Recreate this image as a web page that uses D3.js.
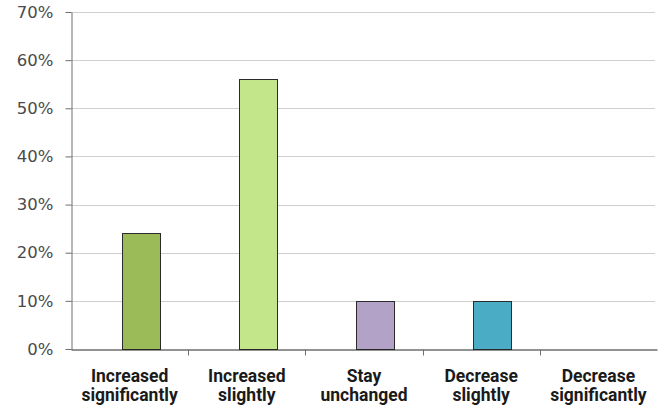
<!DOCTYPE html>
<html><head><meta charset="utf-8">
<script src="https://cdn.jsdelivr.net/npm/d3@7"></script>
<style>body{margin:0;background:#fff}svg{display:block}</style>
</head><body><svg id="c" width="664" height="412"></svg>
<script>
const categories = [["Increased","significantly"],["Increased","slightly"],["Stay","unchanged"],["Decrease","slightly"],["Decrease","significantly"]];
const values = [0.24, 0.56, 0.10, 0.10, 0];
const colors = ["#9BBB59","#C3E68A","#B3A2C7","#4BACC6","#F79646"];
const yTicks = [0,0.1,0.2,0.3,0.4,0.5,0.6,0.7];

const svg = d3.select("#c");
const m = {l:71, r:7, t:12, b:63};
const W = 664, H = 412;
const x = d3.scaleBand().domain(d3.range(categories.length)).range([m.l, W-m.r]).paddingInner(0).paddingOuter(0);
const y = d3.scaleLinear().domain([0,0.7]).range([H-m.b, m.t]);

// gridlines
svg.append("g").selectAll("line").data(yTicks.slice(1)).join("line")
  .attr("x1", m.l).attr("x2", W-m.r-2)
  .attr("y1", d=>Math.round(y(d))+0.5).attr("y2", d=>Math.round(y(d))+0.5)
  .attr("stroke","#cfcfcf").attr("stroke-width",1);

// bars
const bw = 38, off = 11;
svg.append("g").selectAll("rect").data(values).join("rect")
  .attr("x",(d,i)=>Math.round(x(i)+x.bandwidth()/2+off-bw/2)+0.5)
  .attr("width",bw)
  .attr("y",d=>Math.round(y(d))+0.5)
  .attr("height",d=>Math.max(0,Math.round(y(0))-Math.round(y(d))))
  .attr("fill",(d,i)=>colors[i])
  .attr("stroke",(d)=>d>0?"#2b2b2b":"none").attr("stroke-width",1);

// y axis
const ya = svg.append("g").attr("transform",`translate(${m.l+0.5},0)`)
  .call(d3.axisLeft(y).tickValues(yTicks).tickFormat(d3.format(".0%")).tickSize(6).tickSizeOuter(0));
ya.select(".domain").attr("stroke","#6e6e6e");
ya.selectAll(".tick line").attr("stroke","#6e6e6e");
ya.selectAll(".tick text").attr("font-family","DejaVu Sans").attr("font-size",16.5).attr("fill","#4a4a4a").attr("x",-18);

// x axis
const xa = svg.append("g").attr("transform",`translate(0,${Math.round(y(0))+0.5})`)
  .call(d3.axisBottom(x).tickSize(0).tickFormat(""));
xa.select(".domain").attr("stroke","#262626");
const edges = d3.range(categories.length+1).map(i=>m.l + i*x.bandwidth());
xa.selectAll("line.sep").data(edges.slice(1,-1)).join("line").attr("class","sep")
  .attr("x1",d=>Math.round(d)+0.5).attr("x2",d=>Math.round(d)+0.5).attr("y1",0).attr("y2",6)
  .attr("stroke","#6e6e6e");

// category labels
const lab = svg.append("g").selectAll("text").data(categories).join("text")
  .attr("text-anchor","middle")
  .attr("font-family","Roboto").attr("font-weight","bold").attr("font-size",17.5).attr("fill","#1a1a1a");
lab.each(function(d,i){
  const t = d3.select(this);
  d.forEach((s,j)=>t.append("tspan").attr("x",x(i)+x.bandwidth()/2).attr("y",382+j*19).text(s));
});
</script></body></html>
